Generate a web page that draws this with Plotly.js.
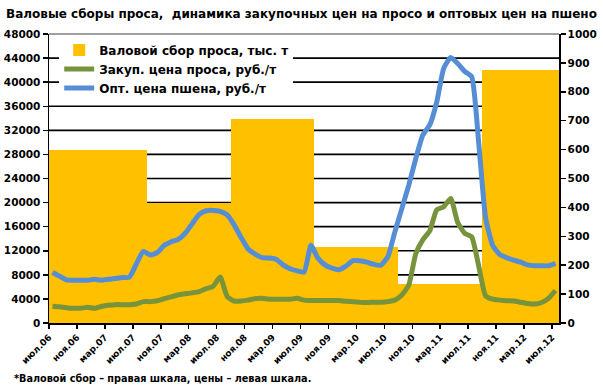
<!DOCTYPE html>
<html><head><meta charset="utf-8">
<script src="https://cdn.plot.ly/plotly-3.0.1.min.js"></script>
<style>html,body{margin:0;padding:0;background:#fff}#chart{width:603px;height:389px}</style>
</head><body><div id="chart"></div>
<script>
const months = ['июл.06','авг.06','сен.06','окт.06','ноя.06','дек.06','янв.07','фев.07','мар.07','апр.07','май.07','июн.07',
'июл.07','авг.07','сен.07','окт.07','ноя.07','дек.07','янв.08','фев.08','мар.08','апр.08','май.08','июн.08',
'июл.08','авг.08','сен.08','окт.08','ноя.08','дек.08','янв.09','фев.09','мар.09','апр.09','май.09','июн.09',
'июл.09','авг.09','сен.09','окт.09','ноя.09','дек.09','янв.10','фев.10','мар.10','апр.10','май.10','июн.10',
'июл.10','авг.10','сен.10','окт.10','ноя.10','дек.10','янв.11','фев.11','мар.11','апр.11','май.11','июн.11',
'июл.11','авг.11','сен.11','окт.11','ноя.11','дек.11','янв.12','фев.12','мар.12','апр.12','май.12','июн.12','июл.12'];

// Закуп. цена проса, руб./т (left axis)
const purchasePrice = [2800,2700,2550,2450,2450,2600,2450,2750,2950,3050,3050,3050,
3150,3550,3550,3700,4050,4350,4700,4850,5000,5200,5700,6100,
7650,4400,3650,3650,3800,4050,4100,3950,3950,3950,3950,4100,
3800,3750,3750,3750,3750,3750,3600,3550,3450,3400,3450,3450,
3550,3800,4650,6300,11500,13800,15300,18800,19300,20700,16700,14900,
14300,9500,4500,3950,3800,3700,3650,3450,3250,3150,3400,4100,5400];

// Опт. цена пшена, руб./т (left axis)
const wholesalePrice = [8400,7800,7150,7100,7100,7100,7250,7100,7250,7400,7550,7600,
9800,11900,11300,11700,12900,13500,13900,14900,16500,18050,18650,18700,
18550,17950,16300,14200,12300,11450,10850,10800,10600,9650,9000,8650,
8450,12900,10750,9650,9100,8850,9450,10350,10350,10100,9750,9600,
11000,15100,19000,22900,27300,31200,32900,36700,42300,44100,43100,41800,
40900,30000,17400,12900,11400,10850,10450,10100,9650,9500,9500,9500,9900];

// Валовой сбор проса, тыс. т (right axis)
const cropSeasons = ['2006','2007','2008','2009','2010','2011'];
const cropStartMonth = ['июл.06','сен.07','сен.08','сен.09','сен.10','сен.11'];
const cropValues = [600, 416, 706, 263, 134, 875];

const tickLabels = ['июл.06','ноя.06','мар.07','июл.07','ноя.07','мар.08','июл.08','ноя.08','мар.09','июл.09',
'ноя.09','мар.10','июл.10','ноя.10','мар.11','июл.11','ноя.11','мар.12','июл.12'];

const priceMax = 48000, priceStep = 4000, cropMax = 1000, cropStep = 100;

const idx = months.map((m,i)=>i);
const starts = cropStartMonth.map(m=>months.indexOf(m) - 0.5);
const ends = starts.map((s,k)=> k < starts.length-1 ? starts[k+1] : months.length - 0.5);
const barX = starts.map((s,k)=>(s+ends[k])/2);
const barW = starts.map((s,k)=>ends[k]-s);
const tickVals = tickLabels.map(l=>months.indexOf(l) - 0.5);

const F = 'DejaVu Sans, Verdana, sans-serif';
const traces = [
 {type:'bar', x:barX, y:cropValues, width:barW, xaxis:'x', yaxis:'y', name:'Валовой сбор проса, тыс. т',
  marker:{color:'#FFC000', line:{width:0}}, hoverinfo:'skip'},
 {type:'scatter', mode:'lines', x:idx, y:purchasePrice, xaxis:'x', yaxis:'y2', name:'Закуп. цена проса, руб./т',
  line:{color:'#77933C', width:5, shape:'spline', smoothing:0.5}},
 {type:'scatter', mode:'lines', x:idx, y:wholesalePrice, xaxis:'x', yaxis:'y2', name:'Опт. цена пшена, руб./т',
  line:{color:'#558ED5', width:5, shape:'spline', smoothing:0.5}}
];

// horizontal gridlines at the price-axis ticks, drawn beneath all traces
const gridShapes = [];
for (let v = priceStep; v < priceMax; v += priceStep) {
  gridShapes.push({type:'line', layer:'below', xref:'paper', yref:'paper', x0:0, x1:1, y0:v/priceMax, y1:v/priceMax,
    line:{color:'#000', width:1.6}});
}
gridShapes.push({type:'line', xref:'paper', yref:'paper', x0:0, x1:1, y0:1, y1:1, line:{color:'#808080', width:1.5}});

const axFont = {family:F, size:10.5, weight:'bold', color:'#000'};
const layout = {
 width:603, height:389, paper_bgcolor:'#fff', plot_bgcolor:'#fff',
 margin:{l:49, r:44, t:34, b:66},
 title:{text:'Валовые сборы проса,  динамика закупочных цен на просо и оптовых цен на пшено',
  font:{family:F, size:12, weight:'bold', color:'#000'}, x:0.5, xanchor:'center', xref:'container',
  y:1-14/389, yanchor:'middle', yref:'container'},
 showlegend:true,
 legend:{x:0.02, y:0.995, xanchor:'left', yanchor:'top', bgcolor:'#fff', borderwidth:0,
  font:{family:F, size:12, weight:'bold', color:'#000'}, tracegroupgap:0, itemwidth:30, traceorder:'normal'},
 bargap:0,
 xaxis:{range:[-0.5, months.length-0.5], tickmode:'array', tickvals:tickVals, ticktext:tickLabels,
  tickangle:-45, ticks:'outside', ticklen:4, tickcolor:'#000', tickwidth:1.5,
  showline:true, linecolor:'#000', linewidth:1.5, showgrid:false, zeroline:false,
  tickfont:{family:F, size:9, weight:'bold', color:'#000'}},
 yaxis:{range:[0,cropMax], dtick:cropStep, tick0:0, side:'right', showgrid:false, tickformat:'d',
  showline:true, linecolor:'#000', linewidth:1.5, ticks:'outside', ticklen:5, tickcolor:'#000', tickwidth:1.5,
  zeroline:false, tickfont:axFont},
 yaxis2:{range:[0,priceMax], dtick:priceStep, tick0:0, overlaying:'y', side:'left', showgrid:false, tickformat:'d',
  showline:true, linecolor:'#000', linewidth:1.5, ticks:'outside', ticklen:5, tickcolor:'#000', tickwidth:1.5,
  zeroline:false, tickfont:axFont},
 shapes:gridShapes,
 annotations:[{text:'*Валовой сбор – правая шкала, цены – левая шкала.', xref:'paper', yref:'paper',
  x:(12-49)/510, y:(323-378)/289, xanchor:'left', yanchor:'middle', showarrow:false,
  font:{family:F, size:9.7, weight:'bold', color:'#000'}}]
};
Plotly.newPlot('chart', traces, layout, {displayModeBar:false, staticPlot:true});
</script></body></html>
